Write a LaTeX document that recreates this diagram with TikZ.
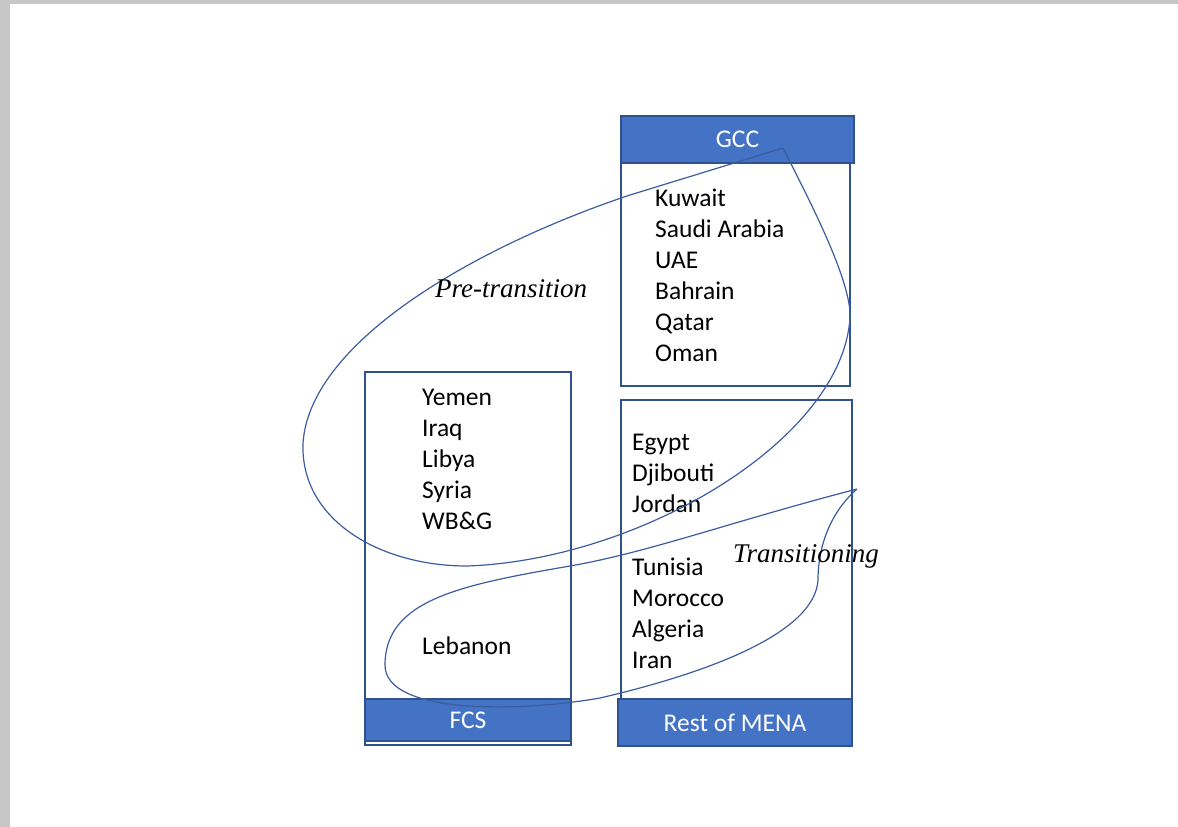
\documentclass[tikz,border=0pt]{standalone}
\usepackage{fontspec}
\setmainfont{Carlito}
\newfontfamily\handfont{Liberation Serif}
\usetikzlibrary{positioning}
\definecolor{menablue}{HTML}{4472C4}
\definecolor{edgeblue}{HTML}{2F528F}
\definecolor{ringblue}{HTML}{3A5DA0}

\begin{document}
\begin{tikzpicture}
[x=1pt,y=-1pt,
bodybox/.style={draw=edgeblue,line width=1.3pt,inner sep=0pt},
header/.style={fill=menablue,draw=edgeblue,line width=1.3pt,text=white,
	inner sep=0pt,font=\fontsize{25.5}{30}\selectfont},
country/.style={anchor=base west,inner sep=0pt,font=\fontsize{25.5}{30}\selectfont},
phase/.style={anchor=base west,inner sep=0pt,font=\handfont\itshape\fontsize{27}{32}\selectfont},
ring/.style={draw=ringblue,line width=1.2pt}]

\useasboundingbox (0,0) rectangle (1178,827);
% page edge
\fill[black!22] (0,0) rectangle (1178,4);
\fill[black!22] (0,0) rectangle (10,827);

% GCC
\node[bodybox,minimum width=229pt,minimum height=270pt] (gccbox) at (735.5,251) {};
\node[header,minimum width=233pt,minimum height=47pt] (gcc) at (737.5,139.5) {GCC};
\foreach \c [count=\i from 0] in {Kuwait,Saudi Arabia,UAE,Bahrain,Qatar,Oman}
	\node[country] (gcc\i) at (655,{206+31*\i}) {\c};

% FCS
\node[bodybox,minimum width=206pt,minimum height=373pt] (fcsbox) at (468,558.5) {};
\node[header,minimum width=206pt,minimum height=42pt] (fcs) at (468,720) {FCS};
\foreach \c [count=\i from 0] in {Yemen,Iraq,Libya,Syria,WB\&G}
	\node[country] (fcs\i) at (422,{405+31*\i}) {\c};
\node[country] (lebanon) at (422,654) {Lebanon};

% Rest of MENA
\node[bodybox,minimum width=231pt,minimum height=299pt] (restbox) at (736.5,549.5) {};
\node[header,minimum width=234pt,minimum height=47pt] (rest) at (735,722.5) {Rest of MENA};
\foreach \c [count=\i from 0] in {Egypt,Djibouti,Jordan}
	\node[country] (resta\i) at (632,{450+31*\i}) {\c};
\foreach \c [count=\i from 0] in {Tunisia,Morocco,Algeria,Iran}
	\node[country] (restb\i) at (632,{575+31*\i}) {\c};

% the two groupings
\coordinate (pretip) at (783,148);
\coordinate (transtip) at (857,489);
\draw[ring] (pretip) -- (630,195)
	.. controls (480,245) and (310,340) .. (303,443)
	.. controls (300,520) and (380,566) .. (467,566)
	.. controls (640,560) and (842,440) .. (850,318)
	.. controls (852,280) and (805,192) .. (pretip);
\draw[ring] (transtip) .. controls (730,522) and (650,552) .. (570,566)
	.. controls (460,585) and (385,600) .. (385,665)
	.. controls (385,715) and (520,712) .. (600,698)
	.. controls (720,670) and (815,630) .. (818,580)
	.. controls (818,540) and (835,508) .. (transtip);
\node[phase] (pretrans) at (435,297) {Pre-transition};
\node[phase] (trans) at (733,562) {Transitioning};
\end{tikzpicture}
\end{document}
